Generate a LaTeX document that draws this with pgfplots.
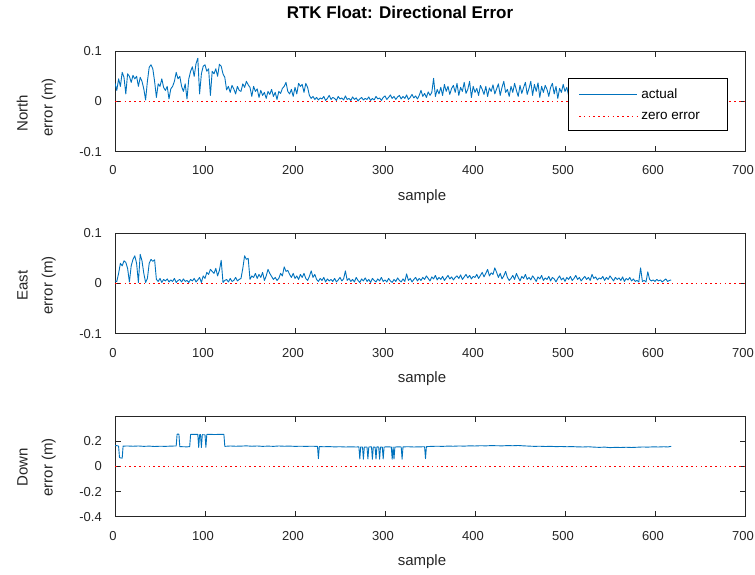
\documentclass[border=0pt]{standalone}
\usepackage{pgfplots}
\pgfplotsset{compat=1.18}
\usepackage{pgfplotstable}
\usepackage{fontspec}
\setmainfont{Liberation Sans}

\definecolor{mlblue}{RGB}{0,114,189}
\definecolor{axgray}{gray}{0.15}
\definecolor{zred}{RGB}{255,0,0}

% North error, one value every 2 samples
\pgfplotstableread[header=false,row sep=\\]{
0.036\\0.022\\0.045\\0.030\\0.058\\0.048\\0.015\\0.055\\0.050\\0.038\\
0.052\\0.045\\0.050\\0.030\\0.048\\0.040\\0.025\\0.003\\0.040\\0.068\\
0.073\\0.065\\0.040\\0.008\\0.035\\0.030\\0.045\\0.028\\0.022\\0.030\\
0.005\\0.025\\0.030\\0.040\\0.058\\0.045\\0.050\\0.030\\0.020\\0.035\\
0.005\\0.045\\0.060\\0.069\\0.050\\0.075\\0.086\\0.015\\0.055\\0.070\\
0.073\\0.060\\0.065\\0.012\\0.060\\0.055\\0.065\\0.050\\0.074\\0.070\\
0.055\\0.048\\0.023\\0.030\\0.018\\0.032\\0.025\\0.015\\0.030\\0.022\\
0.020\\0.035\\0.028\\0.040\\0.033\\0.028\\0.010\\0.030\\0.020\\0.025\\
0.008\\0.022\\0.012\\0.018\\0.006\\0.020\\0.014\\0.024\\0.010\\0.018\\
0.004\\0.020\\0.016\\0.026\\0.030\\0.038\\0.020\\0.015\\0.024\\0.010\\
0.028\\0.015\\0.036\\0.030\\0.034\\0.018\\0.036\\0.028\\0.012\\0.006\\
0.010\\0.004\\0.008\\0.003\\0.007\\0.005\\0.010\\0.002\\0.006\\0.012\\
0.004\\0.008\\0.006\\0.002\\0.010\\0.005\\0.007\\0.003\\0.011\\0.004\\
0.006\\0.002\\0.009\\0.004\\0.007\\0.001\\0.005\\0.008\\0.003\\0.006\\
0.004\\0.009\\0.002\\0.006\\0.003\\0.010\\0.005\\0.007\\0.002\\0.008\\
0.011\\0.004\\0.008\\0.013\\0.006\\0.010\\0.004\\0.009\\0.012\\0.005\\
0.010\\0.006\\0.013\\0.004\\0.008\\0.014\\0.007\\0.011\\0.005\\0.012\\
0.022\\0.010\\0.016\\0.008\\0.019\\0.012\\0.018\\0.046\\0.010\\0.024\\
0.015\\0.028\\0.012\\0.034\\0.020\\0.030\\0.014\\0.026\\0.032\\0.018\\
0.036\\0.012\\0.028\\0.020\\0.038\\0.016\\0.024\\0.040\\0.008\\0.030\\
0.018\\0.026\\0.012\\0.032\\0.024\\0.014\\0.030\\0.010\\0.027\\0.020\\
0.033\\0.015\\0.025\\0.035\\0.012\\0.028\\0.040\\0.018\\0.024\\0.010\\
0.030\\0.018\\0.036\\0.022\\0.010\\0.032\\0.016\\0.028\\0.038\\0.014\\
0.026\\0.040\\0.012\\0.034\\0.020\\0.037\\0.008\\0.030\\0.018\\0.032\\
0.024\\0.010\\0.028\\0.036\\0.015\\0.030\\0.006\\0.026\\0.018\\0.034\\
0.020\\0.028\\0.012\\0.030\\0.018\\0.025\\0.010\\0.022\\0.030\\0.015\\
0.024\\0.012\\0.030\\0.018\\0.008\\0.026\\0.020\\0.014\\0.028\\0.016\\
0.022\\0.010\\0.025\\0.018\\0.030\\0.012\\0.020\\0.026\\0.014\\0.022\\
0.016\\0.024\\0.010\\0.028\\0.018\\0.012\\0.026\\0.020\\0.015\\0.022\\
0.012\\0.025\\0.018\\0.030\\0.014\\0.022\\0.016\\0.028\\0.010\\0.020\\
0.024\\0.014\\0.020\\0.012\\0.026\\0.018\\0.022\\0.015\\0.020\\0.018\\
}\northtab

% East error, one value every 2 samples
\pgfplotstableread[header=false,row sep=\\]{
0.005\\0.004\\0.020\\0.040\\0.035\\0.045\\0.042\\0.030\\0.003\\0.035\\
0.048\\0.055\\0.040\\0.002\\0.058\\0.045\\0.020\\0.002\\0.010\\0.040\\
0.048\\0.044\\0.047\\0.008\\0.004\\0.010\\0.002\\0.008\\0.005\\0.009\\
0.003\\0.007\\0.004\\0.010\\0.002\\0.006\\0.008\\0.003\\0.009\\0.004\\
0.006\\0.002\\0.008\\0.005\\0.010\\0.003\\0.007\\0.012\\0.002\\0.015\\
0.010\\0.022\\0.018\\0.028\\0.024\\0.020\\0.030\\0.015\\0.026\\0.046\\
0.002\\0.006\\0.008\\0.003\\0.010\\0.004\\0.006\\0.012\\0.005\\0.008\\
0.010\\0.030\\0.055\\0.048\\0.050\\0.008\\0.015\\0.012\\0.020\\0.010\\
0.018\\0.012\\0.022\\0.006\\0.015\\0.028\\0.020\\0.014\\0.008\\0.012\\
0.006\\0.010\\0.020\\0.015\\0.033\\0.024\\0.026\\0.018\\0.012\\0.020\\
0.010\\0.015\\0.008\\0.018\\0.012\\0.020\\0.010\\0.006\\0.014\\0.025\\
0.012\\0.018\\0.008\\0.004\\0.010\\0.006\\0.012\\0.003\\0.009\\0.005\\
0.008\\0.004\\0.010\\0.003\\0.007\\0.012\\0.005\\0.009\\0.025\\0.006\\
0.010\\0.004\\0.008\\0.003\\0.012\\0.006\\0.002\\0.009\\0.005\\0.011\\
0.004\\0.008\\0.002\\0.010\\0.006\\0.003\\0.009\\0.005\\0.012\\0.004\\
0.007\\0.003\\0.010\\0.005\\0.002\\0.008\\0.004\\0.011\\0.006\\0.003\\
0.009\\0.004\\0.019\\0.006\\0.010\\0.003\\0.008\\0.012\\0.005\\0.010\\
0.006\\0.012\\0.008\\0.015\\0.010\\0.005\\0.013\\0.009\\0.016\\0.007\\
0.012\\0.008\\0.014\\0.006\\0.011\\0.016\\0.009\\0.013\\0.007\\0.012\\
0.015\\0.010\\0.017\\0.008\\0.013\\0.018\\0.011\\0.016\\0.009\\0.014\\
0.012\\0.018\\0.010\\0.016\\0.022\\0.013\\0.020\\0.028\\0.015\\0.021\\
0.018\\0.031\\0.022\\0.012\\0.020\\0.009\\0.015\\0.024\\0.012\\0.006\\
0.010\\0.016\\0.008\\0.020\\0.012\\0.005\\0.014\\0.010\\0.018\\0.008\\
0.012\\0.007\\0.015\\0.010\\0.004\\0.013\\0.009\\0.016\\0.006\\0.011\\
0.008\\0.014\\0.005\\0.012\\0.009\\0.003\\0.010\\0.015\\0.007\\0.011\\
0.004\\0.012\\0.008\\0.014\\0.006\\0.010\\0.016\\0.008\\0.012\\0.005\\
0.010\\0.014\\0.008\\0.012\\0.006\\0.018\\0.010\\0.013\\0.007\\0.011\\
0.009\\0.014\\0.006\\0.012\\0.008\\0.015\\0.010\\0.005\\0.012\\0.008\\
0.011\\0.006\\0.013\\0.004\\0.010\\0.007\\0.012\\0.005\\0.009\\0.004\\
0.006\\0.003\\0.031\\0.004\\0.006\\0.003\\0.023\\0.008\\0.005\\0.007\\
0.004\\0.008\\0.005\\0.007\\0.003\\0.006\\0.009\\0.004\\0.006\\0.007\\
}\easttab

\pgfplotsset{
  errpanel/.style={
    scale only axis, width=630pt, height=100.5pt,
    anchor=south west,
    xmin=0, xmax=700,
    xtick={0,100,200,300,400,500,600,700},
    xticklabels={0,100,200,300,400,500,600,700},
    tick align=inside,
    major tick length=5.5pt,
    axis line style={axgray, line width=0.7pt},
    every tick/.style={axgray, line width=0.7pt},
    tick label style={axgray, font=\fontsize{13}{15}\selectfont},
    xticklabel style={anchor=base, yshift=-23.3pt, xshift=-2pt, inner sep=0pt},
    yticklabel style={anchor=east, xshift=-13pt, inner sep=0pt},
    xlabel=sample,
    every axis x label/.style={at={(axis description cs:0.5,0)}, anchor=base,
      yshift=-48.3pt, xshift=-8pt, inner sep=0pt,
      font=\fontsize{15}{18}\selectfont, text=axgray},
    every axis y label/.style={at={(axis description cs:-0.0937,\ylabelpos)}, rotate=90,
      anchor=south, inner sep=0pt, align=center,
      font=\fontsize{15}{25}\selectfont, text=axgray},
  },
  actual/.style={mlblue, line width=0.9pt, line join=round},
  zeroline/.style={color=zred, line width=1.5pt, dash pattern=on 1.5pt off 3.3pt},
}
\def\ylabelpos{0.48}

\begin{document}
\begin{tikzpicture}
\useasboundingbox (0,0) rectangle (755pt,574pt);

% North
\def\ylabelpos{0.44}
\begin{axis}[errpanel, at={(115pt,422.3pt)},
  ymin=-0.1, ymax=0.1, ytick={-0.1,0,0.1}, yticklabels={-0.1,0,0.1},
  ylabel={North\hspace*{12pt}\\error (m)},
  title={RTK Float: Directional Error},
  title style={at={(axis description cs:0.5,1)}, anchor=base, yshift=26.5pt,
    xshift=-30pt, inner sep=0pt, font=\bfseries\fontsize{17}{20}\selectfont},
  legend image code/.code={\draw[#1] (0pt,0pt) -- (58pt,0pt);},
  legend cell align=left,
  legend style={at={(axis description cs:0.719,0.7297)}, anchor=north west,
    draw=black, line width=0.6pt, fill=white,
    font=\fontsize{13.5}{16}\selectfont,
    inner xsep=10pt, inner ysep=8pt, row sep=8pt,
    /tikz/every odd column/.append style={column sep=1.5pt}},
]
\addplot[actual] table[x expr=2*\coordindex, y index=0] {\northtab};
\addplot[zeroline] coordinates {(0,0) (700,0)};
\legend{\makebox[74pt][l]{actual},
        \makebox[74pt][l]{zero error}\rule[-7pt]{0pt}{7pt}}
\end{axis}

% East
\def\ylabelpos{0.48}
\begin{axis}[errpanel, at={(115pt,240.3pt)},
  ymin=-0.1, ymax=0.1, ytick={-0.1,0,0.1}, yticklabels={-0.1,0,0.1},
  ylabel={East\\error (m)},
]
\addplot[actual] table[x expr=2*\coordindex, y index=0] {\easttab};
\addplot[zeroline] coordinates {(0,0) (700,0)};
\end{axis}

% Down
\def\ylabelpos{0.49}
\begin{axis}[errpanel, at={(115pt,57.3pt)},
  ymin=-0.4, ymax=0.4, ytick={-0.4,-0.2,0,0.2}, yticklabels={-0.4,-0.2,0,0.2},
  ylabel={Down\\error (m)},
]
\addplot[actual] coordinates {
(0,0.166)(3,0.165)(4,0.160)(5,0.070)(8,0.066)(9,0.162)(14,0.163)(20,0.161)
(26,0.163)(32,0.160)(38,0.162)(44,0.159)(50,0.161)(56,0.160)(62,0.162)(68,0.163)
(69,0.257)(71,0.257)(72,0.158)(76,0.157)(80,0.156)(83,0.158)
(84,0.255)(88,0.256)(92,0.255)(93,0.152)(94,0.252)(95,0.254)(96,0.150)(97,0.253)
(100,0.252)(101,0.152)(102,0.255)(106,0.256)(110,0.254)(114,0.255)(118,0.256)(121,0.255)
(122,0.160)(128,0.163)(134,0.161)(140,0.162)(146,0.164)(152,0.161)(158,0.163)(164,0.160)
(170,0.162)(176,0.160)(182,0.163)(188,0.161)(194,0.162)(200,0.160)(206,0.161)(212,0.160)
(218,0.161)(225,0.160)(226,0.062)(227,0.158)(232,0.157)(238,0.158)(244,0.156)(250,0.157)
(256,0.155)(262,0.156)(268,0.155)(271,0.156)
(272,0.060)(273,0.155)(275,0.155)(276,0.058)(277,0.154)(280,0.155)(281,0.060)(282,0.155)
(285,0.156)(286,0.057)(287,0.155)(289,0.154)(290,0.060)(291,0.156)(293,0.155)(294,0.058)
(295,0.155)(297,0.154)(298,0.060)(299,0.155)(303,0.156)(307,0.155)(308,0.058)(309,0.155)
(310,0.060)(311,0.155)(316,0.156)(318,0.155)(319,0.058)(320,0.156)(326,0.157)(332,0.155)
(338,0.156)(344,0.157)(345,0.062)(346,0.158)
(352,0.160)(358,0.161)(364,0.160)(370,0.162)(376,0.161)(382,0.163)(388,0.162)(394,0.164)
(400,0.163)(406,0.165)(412,0.164)(418,0.166)(424,0.165)(430,0.164)(436,0.166)(442,0.165)
(448,0.167)(454,0.164)(460,0.162)(466,0.160)(472,0.161)(478,0.159)(484,0.160)(490,0.158)
(496,0.159)(502,0.157)(508,0.158)(514,0.156)(520,0.155)(526,0.157)(532,0.154)(538,0.152)
(544,0.154)(550,0.150)(556,0.152)(562,0.151)(568,0.153)(574,0.151)(580,0.153)(586,0.155)
(592,0.154)(598,0.156)(604,0.155)(610,0.157)(614,0.155)(618,0.160)
};
\addplot[zeroline] coordinates {(0,0) (700,0)};
\end{axis}
\end{tikzpicture}
\end{document}
